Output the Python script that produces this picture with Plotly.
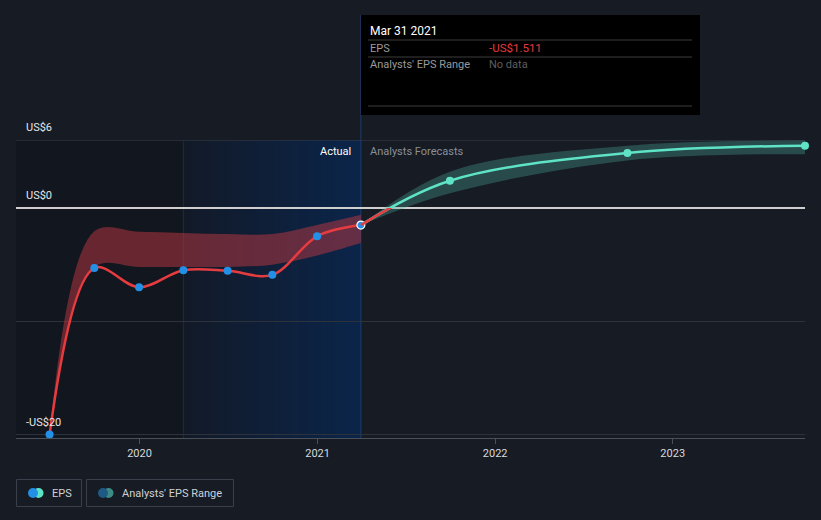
import plotly.graph_objects as go
import pandas as pd

# ---------------- data ----------------
eps_dates = ["2019-06-30", "2019-09-30", "2019-12-31", "2020-03-31",
             "2020-06-30", "2020-09-30", "2020-12-31", "2021-03-31"]
eps_values = [-20.0, -5.3, -7.0, -5.5, -5.55, -5.9, -2.5, -1.511]

past_range_high = [-20.0, -2.05, -2.1, -2.2, -2.3, -2.3, -1.5, -0.6]
past_range_low = [-20.0, -5.2, -5.2, -5.2, -5.2, -5.0, -4.2, -3.1]

fc_dates = ["2021-03-31", "2021-09-30", "2022-09-30", "2023-09-30"]
fc_values = [-1.511, 2.4, 4.85, 5.5]
fc_high = [-1.511, 3.2, 5.5, 5.95]
fc_low = [-1.511, 1.3, 4.2, 4.75]

actual_region = ["2020-03-31", "2021-03-31"]
x_range = ["2019-04-22", "2023-09-30"]
y_range = [-20.3, 6.0]
y_ticks = [-20, -10, 0, 6]
y_ticktext = ["-US$20", "", "US$0", "US$6"]

# ---------------- layout geometry (pixels) ----------------
W, H = 821, 520
ML, MR, MT, MB = 16, 16, 140, 82
PW, PH = W - ML - MR, H - MT - MB


def px(x):
    return (x - ML) / PW


def py(y):
    return (H - MB - y) / PH


def yval_to_paper(v):
    return (v - y_range[0]) / (y_range[1] - y_range[0])


BG = "#161b24"
RED = "#e63c3f"
TEAL = "#5ee3c6"
BLUE = "#2390e8"
GRID = "#2d323b"

fig = go.Figure()

# past analysts' range band
fig.add_trace(go.Scatter(x=eps_dates, y=past_range_low, mode="lines",
                         line=dict(width=0, shape="spline"),
                         hoverinfo="skip", showlegend=False))
fig.add_trace(go.Scatter(x=eps_dates, y=past_range_high, mode="lines",
                         line=dict(width=0, shape="spline"), fill="tonexty",
                         fillcolor="rgba(190,55,65,0.50)",
                         hoverinfo="skip", showlegend=False))

# forecast range band
fig.add_trace(go.Scatter(x=fc_dates, y=fc_low, mode="lines",
                         line=dict(width=0, shape="spline"),
                         hoverinfo="skip", showlegend=False))
fig.add_trace(go.Scatter(x=fc_dates, y=fc_high, mode="lines",
                         line=dict(width=0, shape="spline"), fill="tonexty",
                         fillcolor="rgba(80,175,155,0.32)",
                         hoverinfo="skip", showlegend=False))

# forecast line (teal), with a red copy clipped to the negative area
fig.add_trace(go.Scatter(x=fc_dates, y=fc_values, mode="lines",
                         line=dict(color=TEAL, width=2.5, shape="spline"),
                         showlegend=False))
fig.add_trace(go.Scatter(x=fc_dates, y=fc_values, mode="lines", yaxis="y2",
                         line=dict(color=RED, width=2.5, shape="spline"),
                         showlegend=False))
fig.add_trace(go.Scatter(x=fc_dates[1:], y=fc_values[1:], mode="markers",
                         marker=dict(color=TEAL, size=8), cliponaxis=False,
                         showlegend=False))

# EPS line
fig.add_trace(go.Scatter(x=eps_dates, y=eps_values, mode="lines",
                         line=dict(color=RED, width=2.5, shape="spline"),
                         showlegend=False))
fig.add_trace(go.Scatter(x=eps_dates, y=eps_values, mode="markers", yaxis="y3",
                         marker=dict(color=BLUE, size=8,
                                     line=dict(color=[BLUE] * (len(eps_values) - 1) + ["#ffffff"],
                                               width=[0] * (len(eps_values) - 1) + [1.2])),
                         cliponaxis=False, showlegend=False))

zero_frac = yval_to_paper(0)

shapes = []

# darker region left of the actual year (below gridlines)
shapes.append(dict(type="rect", xref="x", yref="paper", x0=x_range[0], x1=actual_region[0],
                   y0=0, y1=1, fillcolor="#12161e", line=dict(width=0), layer="below"))

# gradient "Actual" region built from overlapping strips (no seams)
N = 48
a0, a1 = pd.Timestamp(actual_region[0]), pd.Timestamp(actual_region[1])
c0, c1 = (0x12, 0x1a, 0x28), (0x0b, 0x25, 0x4a)
for i in range(N):
    t = (i + 0.5) / N
    col = "#%02x%02x%02x" % tuple(int(round(c0[k] + (c1[k] - c0[k]) * t)) for k in range(3))
    s0 = a0 + (a1 - a0) * i / N
    shapes.append(dict(type="rect", xref="x", yref="paper", x0=s0, x1=a1,
                       y0=0, y1=1, fillcolor=col, line=dict(width=0),
                       layer="below"))

shapes += [
    # top gridline (at range edge)
    dict(type="line", xref="paper", yref="y", x0=0, x1=1, y0=y_ticks[-1], y1=y_ticks[-1],
         line=dict(color="#3a3f48", width=1), layer="below"),
    # borders of actual region
    dict(type="line", xref="x", yref="paper", x0=actual_region[0], x1=actual_region[0],
         y0=0, y1=1, line=dict(color="#1a2d4c", width=1), layer="below"),
    # hover line
    dict(type="line", xref="x", yref="paper", x0=actual_region[1], x1=actual_region[1],
         y0=0, y1=py(15), line=dict(color="#1f3d6a", width=1), layer="below"),
    # tooltip box
    dict(type="rect", xref="paper", yref="paper", x0=px(361), x1=px(700),
         y0=py(115), y1=py(15), fillcolor="#000000", line=dict(width=0)),
    dict(type="line", xref="paper", yref="paper", x0=px(368), x1=px(692),
         y0=py(40), y1=py(40), line=dict(color="#3c3c3c", width=1)),
    dict(type="line", xref="paper", yref="paper", x0=px(368), x1=px(692),
         y0=py(57), y1=py(57), line=dict(color="#3c3c3c", width=1)),
    dict(type="line", xref="paper", yref="paper", x0=px(368), x1=px(692),
         y0=py(106), y1=py(106), line=dict(color="#3c3c3c", width=1)),
    # legend boxes
    dict(type="rect", xref="paper", yref="paper", x0=px(16.5), x1=px(81.5),
         y0=py(506.5), y1=py(479.5), line=dict(color="#3a404b", width=1)),
    dict(type="rect", xref="paper", yref="paper", x0=px(86.5), x1=px(233.5),
         y0=py(506.5), y1=py(479.5), line=dict(color="#3a404b", width=1)),
]


def circle(cx, cy, r, color):
    return dict(type="circle", xref="paper", yref="paper",
                x0=px(cx - r), x1=px(cx + r), y0=py(cy + r), y1=py(cy - r),
                fillcolor=color, line=dict(width=0))


shapes += [circle(38.5, 493, 5, TEAL), circle(33, 493, 5, BLUE),
           circle(108.5, 493, 5, "#3d8b83"), circle(103, 493, 5, "#1f5a85")]

FONT = "Roboto, Arial, sans-serif"


def ann(x, y, text, color, size=11, xanchor="left"):
    return dict(xref="paper", yref="paper", x=px(x), y=py(y), text=text,
                showarrow=False, xanchor=xanchor, yanchor="middle",
                font=dict(family=FONT, size=size, color=color))


annotations = [
    ann(368, 31, "Mar 31 2021", "#ffffff", 12),
    ann(368, 48, "EPS", "#9a9a9a"),
    ann(487, 48, "-US$1.511", "#e8383d", 11.5),
    ann(368, 65, "Analysts' EPS Range", "#9a9a9a"),
    ann(487, 65, "No data", "#5e5e5e"),
    ann(353, 151, "Actual", "#ffffff", 11, xanchor="right"),
    ann(368, 151, "Analysts Forecasts", "#8a8f98", 11),
    ann(50, 493, "EPS", "#cfd2d6", 11),
    ann(120, 493, "Analysts' EPS Range", "#cfd2d6", 11),
]

# y tick labels drawn just above their gridlines, inside the plot
for v, t in zip(y_ticks, y_ticktext):
    if t:
        annotations.append(dict(xref="paper", yref="paper", x=px(24),
                                y=yval_to_paper(v), yshift=4, text=t,
                                showarrow=False, xanchor="left", yanchor="bottom",
                                font=dict(family=FONT, size=11, color="#e6e6e6")))

fig.update_layout(
    width=W, height=H,
    margin=dict(l=ML, r=MR, t=MT, b=MB),
    paper_bgcolor=BG, plot_bgcolor="rgba(0,0,0,0)",
    font=dict(family=FONT, size=11, color="#d8dadd"),
    shapes=shapes, annotations=annotations,
    showlegend=False,
    hovermode=False,
    xaxis=dict(type="date", range=x_range, showgrid=False, zeroline=False,
               showline=True, linecolor="#4a4f58", linewidth=1,
               ticks="outside", ticklen=5, tickcolor="#4a4f58",
               dtick="M12", tick0="2020-01-01", tickformat="%Y",
               tickfont=dict(size=11, color="#d8dadd")),
    yaxis=dict(range=y_range, tickvals=y_ticks, showticklabels=False,
               showgrid=True, gridcolor=GRID, gridwidth=1,
               zeroline=True, zerolinecolor="#cfcfcf", zerolinewidth=1.5,
               showline=False),
    yaxis2=dict(range=[y_range[0], 0], domain=[0, zero_frac],
                anchor="x", visible=False, showgrid=False, zeroline=False),
    yaxis3=dict(range=y_range, overlaying="y", anchor="x", visible=False,
                showgrid=False, zeroline=False),
)

fig.write_html("out.html")
